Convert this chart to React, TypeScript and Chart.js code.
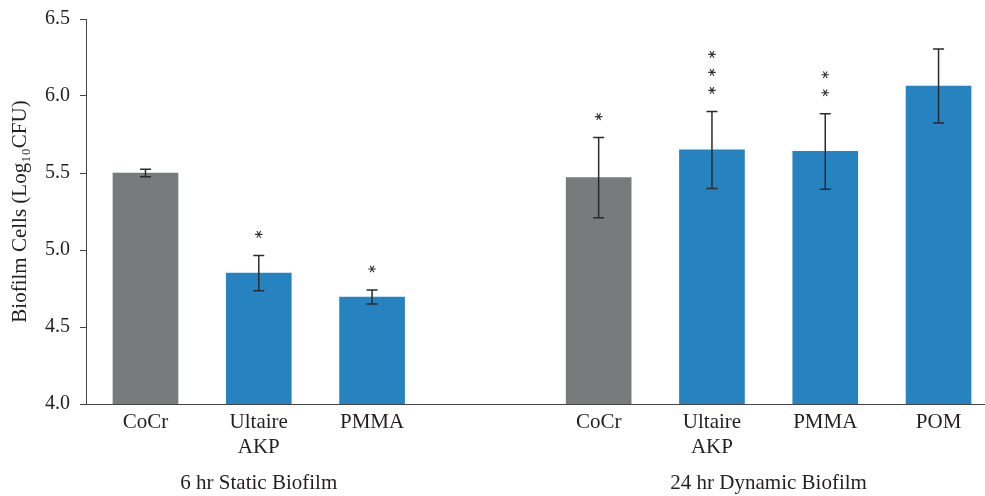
import React, { useEffect, useRef } from "react";
import { Chart, registerables } from "chart.js";

Chart.register(...registerables);

const categories = ["CoCr", "Ultaire\nAKP", "PMMA", "", "CoCr", "Ultaire\nAKP", "PMMA", "POM"];
const values = [5.5, 4.85, 4.695, null, 5.47, 5.65, 5.64, 6.065];
const errors = [0.025, 0.115, 0.045, null, 0.26, 0.25, 0.245, 0.24];
const stars = [0, 1, 1, 0, 1, 3, 2, 0];
const groupLabels = ["6 hr Static Biofilm", "24 hr Dynamic Biofilm"];
const groupCenters = [1, 5.5];
const yTicks = [4.0, 4.5, 5.0, 5.5, 6.0, 6.5];

const FONT = "'Liberation Serif', 'Times New Roman', serif";
const TEXT = "#231f20";

const overlay = {
  id: "overlay",
  afterDatasetsDraw(chart: any) {
    const { ctx, scales } = chart;
    const xs = scales.x;
    const ys = scales.y;
    ctx.save();
    values.forEach((v, i) => {
      if (v == null) return;
      const e = errors[i] as number;
      const x = xs.getPixelForValue(i);
      const yt = ys.getPixelForValue(v + e);
      const yb = ys.getPixelForValue(v - e);
      ctx.strokeStyle = "#2b2b2b";
      ctx.lineWidth = 1.5;
      ctx.beginPath();
      ctx.moveTo(x, yt);
      ctx.lineTo(x, yb);
      ctx.moveTo(x - 5.5, yt);
      ctx.lineTo(x + 5.5, yt);
      ctx.moveTo(x - 5.5, yb);
      ctx.lineTo(x + 5.5, yb);
      ctx.stroke();
      for (let k = 0; k < stars[i]; k++) {
        const cy = yt - 21 - k * 18;
        ctx.lineWidth = 1.1;
        ctx.strokeStyle = "#333";
        ctx.beginPath();
        for (let a = 0; a < 3; a++) {
          const ang = (a * Math.PI) / 3;
          const r = 3.8;
          ctx.moveTo(x - r * Math.cos(ang), cy - r * Math.sin(ang));
          ctx.lineTo(x + r * Math.cos(ang), cy + r * Math.sin(ang));
        }
        ctx.stroke();
      }
    });
    ctx.fillStyle = TEXT;
    ctx.font = `21px ${FONT}`;
    ctx.textAlign = "center";
    ctx.textBaseline = "middle";
    groupLabels.forEach((g, j) => {
      ctx.fillText(g, xs.getPixelForValue(groupCenters[j]), 483);
    });
    ctx.restore();
  },
};

export default function App() {
  const ref = useRef<HTMLCanvasElement | null>(null);
  useEffect(() => {
    document.body.style.margin = "0";
    document.body.style.overflow = "hidden";
    if (!ref.current) return;
    const data = values.map((v, i) => ({ x: i, y: v }));
    const chart = new Chart(ref.current, {
      type: "bar",
      data: {
        datasets: [
          {
            data: data as any,
            backgroundColor: categories.map((c) => (c === "CoCr" ? "#777b7b" : "#2782c0")),
            barThickness: 65,
            borderWidth: 0,
          },
        ],
      },
      options: {
        animation: false,
        responsive: false,
        maintainAspectRatio: false,
        layout: { padding: { top: 19, right: 0, left: 0, bottom: 0 } },
        plugins: { legend: { display: false }, tooltip: { enabled: false } },
        scales: {
          x: {
            type: "linear",
            offset: false,
            min: -0.525,
            max: 7.41,
            grid: { display: false, drawTicks: false },
            border: { display: true, color: "#444", width: 1 },
            afterBuildTicks: (s: any) => {
              s.ticks = categories
                .map((c, i) => ({ value: i, c }))
                .filter((t) => t.c !== "")
                .map((t) => ({ value: t.value }));
            },
            afterFit: (s: any) => {
              s.height = 92;
              s.paddingLeft = 0;
              s.paddingRight = 0;
            },
            ticks: {
              autoSkip: false,
              maxRotation: 0,
              padding: 6,
              color: TEXT,
              font: { family: FONT, size: 21, lineHeight: 1.2 },
              callback: (v: any) => {
                const c = categories[Math.round(v)] || "";
                return c.includes("\n") ? c.split("\n") : c;
              },
            },
          },
          y: {
            min: 4.0,
            max: 6.5,
            afterBuildTicks: (s: any) => {
              s.ticks = yTicks.map((v) => ({ value: v }));
            },
            afterFit: (s: any) => {
              s.width = 86;
              s.paddingTop = 0;
              s.paddingBottom = 0;
            },
            grid: { display: true, drawOnChartArea: false, drawTicks: true, tickLength: 6, color: "#444" },
            border: { display: true, color: "#444", width: 1 },
            title: {
              display: true,
              text: "Biofilm Cells (Log\u2081\u2080CFU)",
              color: TEXT,
              font: { family: FONT, size: 21, lineHeight: 1.2 },
              padding: { top: 8, bottom: 6 },
            },
            ticks: {
              padding: 10,
              color: TEXT,
              font: { family: FONT, size: 20 },
              callback: (v: any) => Number(v).toFixed(1),
            },
          },
        },
      },
      plugins: [overlay],
    });
    return () => chart.destroy();
  }, []);
  return (
    <div style={{ width: 985, height: 496 }}>
      <canvas ref={ref} width={985} height={496} style={{ display: "block", width: 985, height: 496 }} />
    </div>
  );
}
